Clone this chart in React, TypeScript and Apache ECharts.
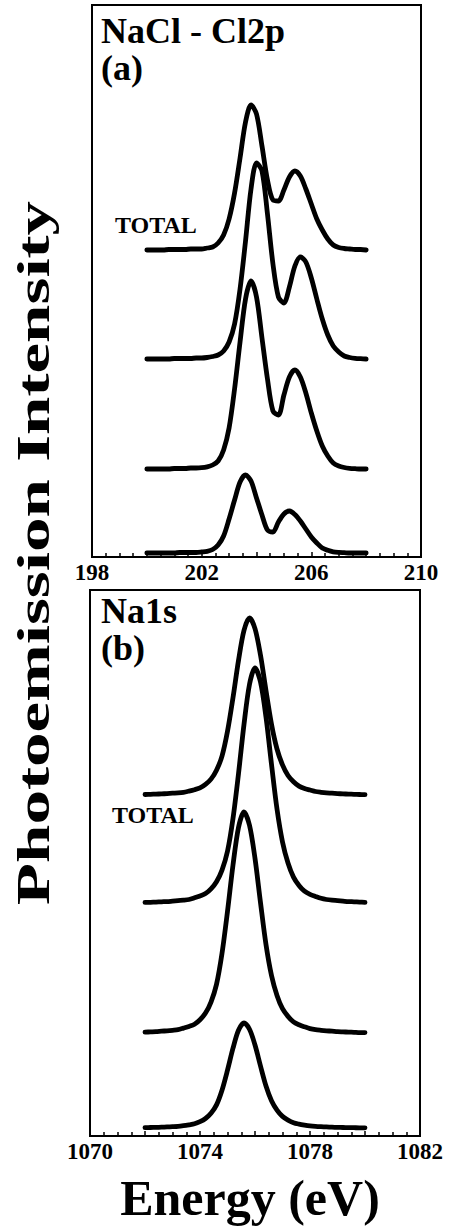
import React, { useEffect, useRef } from "react";
import * as echarts from "echarts";

// ---------- Data ----------
// Panel (a): NaCl Cl2p, binding energy (eV)
const clEnergy = [
  200, 200.2, 200.4, 200.6, 200.8, 201, 201.2, 201.4, 201.6, 201.8,
  202, 202.2, 202.4, 202.6, 202.8, 203, 203.2, 203.4, 203.6, 203.8,
  204, 204.2, 204.4, 204.6, 204.8, 205, 205.2, 205.4, 205.6, 205.8,
  206, 206.2, 206.4, 206.6, 206.8, 207, 207.2, 207.4, 207.6, 207.8, 208,
];
const clTotal = [
  0, 0, 0, 0, 0.5, 0.5, 0.5, 0.5, 1, 1,
  1, 2, 3, 7, 15, 31, 57, 92, 128, 145,
  136, 104, 70, 50, 49, 60, 73, 79, 74, 61,
  46, 31, 20, 11, 5, 2.5, 1.5, 1, 0.5, 0.5, 0,
];
const clCurve2 = [
  0, 0, 0, 0, 0, 0.5, 0.5, 0.5, 0.5, 1,
  1, 1.5, 2.5, 4, 8, 17, 35, 70, 118, 170,
  196, 188, 145, 95, 62, 56, 72, 93, 102, 97,
  81, 60, 40, 24, 13, 7, 3, 1.5, 0.7, 0.3, 0,
];
const clCurve3 = [
  0, 0, 0, 0, 0, 0.5, 0.5, 0.5, 1, 1,
  1.3, 2.2, 4, 8, 19, 41, 80, 127, 170, 188,
  172, 131, 90, 58, 54, 74, 92, 99, 92, 76,
  56, 38, 23, 13, 6, 3, 1.5, 0.7, 0.3, 0, 0,
];
const clCurve4 = [
  0, 0, 0, 0, 0, 0, 0.5, 0.5, 0.5, 0.5,
  1, 1.7, 3.5, 8, 17, 34, 53, 71, 78, 72,
  55, 38, 23, 21, 31, 39, 42, 38.5, 32, 24,
  16, 10, 5, 2.7, 1.2, 0.6, 0.3, 0, 0, 0, 0,
];
const clOffsets = [307, 198, 88, 4];
const clTicks = [198, 202, 206, 210];

// Panel (b): Na1s, binding energy (eV)
const naEnergy = [
  1072, 1072.2, 1072.4, 1072.6, 1072.8, 1073, 1073.2, 1073.4, 1073.6, 1073.8,
  1074, 1074.2, 1074.4, 1074.6, 1074.8, 1075, 1075.2, 1075.4, 1075.6, 1075.8,
  1076, 1076.2, 1076.4, 1076.6, 1076.8, 1077, 1077.2, 1077.4, 1077.6, 1077.8,
  1078, 1078.2, 1078.4, 1078.6, 1078.8, 1079, 1079.2, 1079.4, 1079.6, 1079.8, 1080,
];
const naTotal = [
  0.5, 0.7, 0.9, 1.1, 1.4, 1.8, 2.1, 2.7, 3.9, 5.3,
  7.1, 10.6, 15.9, 24.8, 38.9, 63.7, 97.4, 134.5, 164.6, 177,
  166.4, 139.8, 104.4, 70.8, 46, 30.1, 19.5, 13.3, 8.9, 6.5,
  5, 3.5, 2.7, 2.1, 1.8, 1.4, 1.1, 0.9, 0.7, 0.5, 0.4,
];
const naCurve2 = [
  0.6, 0.7, 0.9, 1.2, 1.4, 1.9, 2.4, 2.8, 3.5, 5.2,
  7.1, 9.4, 14.1, 21.2, 32.9, 51.7, 84.6, 129.3, 178.6, 218.6,
  235, 220.9, 185.7, 138.7, 94, 61.1, 40, 25.9, 17.6, 11.8,
  8.7, 6.6, 4.7, 3.5, 2.8, 2.4, 1.9, 1.4, 1.2, 0.9, 0.7,
];
const naCurve3 = [
  0.9, 1.1, 1.3, 1.8, 2.2, 2.7, 3.3, 4.9, 6.6, 8.8,
  13.3, 19.9, 30.9, 48.6, 79.6, 121.6, 168, 205.5, 221, 207.7,
  174.6, 130.4, 88.4, 57.5, 37.6, 24.3, 16.6, 11.1, 8.2, 6.2,
  4.4, 3.3, 2.7, 2.2, 1.8, 1.3, 1.1, 0.9, 0.7, 0.4, 0.4,
];
const naCurve4 = [
  0.4, 0.5, 0.6, 0.8, 1.1, 1.3, 1.6, 2.3, 3.2, 4.2,
  6.3, 9.5, 14.7, 23.1, 37.8, 57.8, 79.8, 97.7, 105, 98.7,
  83, 62, 42, 27.3, 17.9, 11.6, 7.9, 5.3, 3.9, 2.9,
  2.1, 1.6, 1.3, 1.1, 0.8, 0.6, 0.5, 0.4, 0.3, 0.2, 0.2,
];
const naOffsets = [341, 233, 103, 8];
const naTicks = [1070, 1074, 1078, 1082];

const panelTitles = ["NaCl - Cl2p", "Na1s"];
const panelLetters = ["(a)", "(b)"];
const totalLabel = "TOTAL";
const xTitle = "Energy (eV)";
const yTitle = "Photoemission Intensity";

const SERIF = "'Liberation Serif', 'Times New Roman', serif";

export default function App() {
  const ref = useRef<HTMLDivElement>(null);

  useEffect(() => {
    const chart = echarts.init(ref.current as HTMLDivElement, null, { renderer: "svg" });

    const mk = (energy: number[], vals: number[], off: number, idx: number) => ({
      type: "line",
      xAxisIndex: idx,
      yAxisIndex: idx,
      data: energy.map((e, i) => [e, vals[i] + off]),
      showSymbol: false,
      smooth: 0.3,
      silent: true,
      lineStyle: { color: "#000", width: 4.8, cap: "round", join: "round" },
    });

    const xAxisBase = (min: number, max: number, ticks: number[], idx: number) => ({
      type: "value",
      gridIndex: idx,
      min,
      max,
      interval: 2,
      axisLine: { show: true, onZero: false, lineStyle: { color: "#000", width: 2 } },
      axisTick: { show: true, inside: true, length: 5, lineStyle: { color: "#000", width: 1.5 } },
      minorTick: { show: true, splitNumber: 4, length: 4, lineStyle: { color: "#000", width: 1.5 } },
      splitLine: { show: false },
      minorSplitLine: { show: false },
      axisLabel: {
        show: true,
        showMinLabel: true,
        showMaxLabel: true,
        margin: 4,
        color: "#000",
        fontFamily: SERIF,
        fontWeight: "bold",
        fontSize: 23,
        formatter: (v: number) => (ticks.includes(Math.round(v)) ? String(Math.round(v)) : ""),
      },
    });

    const txt = (text: string, x: number, y: number, size: number, align = "left", extra: any = {}) => ({
      type: "text",
      x,
      y,
      silent: true,
      ...extra,
      style: {
        text,
        fill: "#000",
        font: `bold ${size}px ${SERIF}`,
        align,
        verticalAlign: "middle",
        textAlign: align,
        textVerticalAlign: "middle",
      },
    });

    chart.setOption({
      animation: false,
      backgroundColor: "#fff",
      grid: [
        { left: 92, top: 5, width: 329, height: 552, show: true, borderColor: "#000", borderWidth: 2, backgroundColor: "transparent" },
        { left: 90, top: 590, width: 330, height: 546, show: true, borderColor: "#000", borderWidth: 2, backgroundColor: "transparent" },
      ],
      xAxis: [xAxisBase(198, 210, clTicks, 0), xAxisBase(1070, 1082, naTicks, 1)],
      yAxis: [
        { type: "value", gridIndex: 0, min: 0, max: 552, show: false },
        { type: "value", gridIndex: 1, min: 0, max: 546, show: false },
      ],
      series: [
        mk(clEnergy, clTotal, clOffsets[0], 0),
        mk(clEnergy, clCurve2, clOffsets[1], 0),
        mk(clEnergy, clCurve3, clOffsets[2], 0),
        mk(clEnergy, clCurve4, clOffsets[3], 0),
        mk(naEnergy, naTotal, naOffsets[0], 1),
        mk(naEnergy, naCurve2, naOffsets[1], 1),
        mk(naEnergy, naCurve3, naOffsets[2], 1),
        mk(naEnergy, naCurve4, naOffsets[3], 1),
      ],
      graphic: [
        txt(panelTitles[0], 101, 31, 36),
        txt(panelLetters[0], 101, 68, 36),
        txt(panelTitles[1], 101, 611, 36),
        txt(panelLetters[1], 101, 648, 36),
        txt(totalLabel, 115, 225, 24),
        txt(totalLabel, 112, 815, 24),
        txt(xTitle, 250, 1198, 50, "center"),
        txt(yTitle, 33, 553, 47, "center", { rotation: Math.PI / 2, scaleX: 1.47 }),
      ],
    });

    return () => chart.dispose();
  }, []);

  return (
    <div
      ref={ref}
      style={{ position: "absolute", left: 0, top: 0, width: 450, height: 1228 }}
    />
  );
}
